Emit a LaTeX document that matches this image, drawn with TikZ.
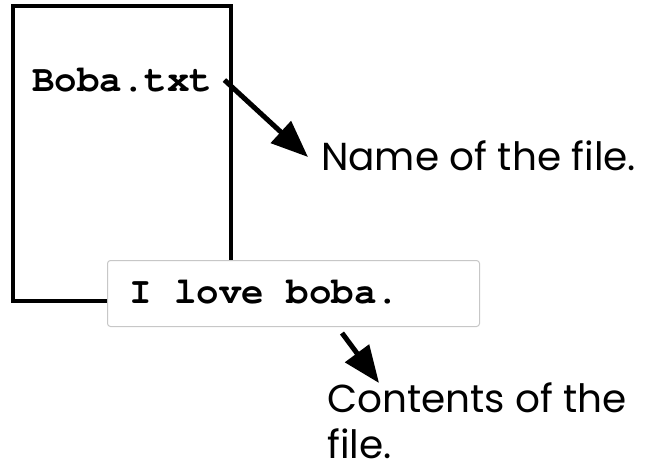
\documentclass[tikz,border=0pt]{standalone}
\usepackage{fontspec}
\setmainfont{Poppins}
\setmonofont{TeX Gyre Cursor}
\usetikzlibrary{arrows.meta}
\tikzset{
  filebox/.style={draw=black, line width=3.4pt, inner sep=0pt},
  contentbox/.style={draw=black!22, fill=white, line width=1pt, rounded corners=3pt,
    minimum width=372pt, minimum height=66pt, inner sep=0pt},
  codetext/.style={font=\fontsize{37.5}{40}\selectfont\ttfamily\bfseries, inner sep=0pt},
  labeltext/.style={font=\fontsize{39}{46}\selectfont, inner sep=0pt, align=left, text depth=0pt},
  bigarrow/.style={line width=5pt, -{Triangle[length=37pt, width=29pt]}},
}
\begin{document}
\begin{tikzpicture}[x=1pt, y=-1pt]
  \useasboundingbox (0,0) rectangle (650,466);
  % the file
  \draw[filebox] (13,6) rectangle (231,301);
  \node[codetext, anchor=base west] (fname) at (32,91) {Boba.txt};
  % its contents
  \node[contentbox, anchor=north west] (cbox) at (107,260) {};
  \node[codetext, anchor=base west] (ctext) at (129,303) {I love boba.};
  % labels (a multi-line node's base is its last line)
  \node[labeltext, anchor=base west] (namelbl) at (321,170) {Name of the file.};
  \node[labeltext, anchor=base west] (contlbl) at (327,458) {Contents of the\\file.};
  % arrows
  \coordinate (a1s) at ([xshift=12pt, yshift=11pt]fname.base east);
  \coordinate (a1e) at ([xshift=-13pt, yshift=13pt]namelbl.base west);
  \draw[bigarrow] (a1s) -- (a1e);
  \coordinate (a2s) at ([xshift=235pt, yshift=-6pt]cbox.south west);
  \coordinate (a2e) at ([xshift=272pt, yshift=-56pt]cbox.south west);
  \draw[bigarrow] (a2s) -- (a2e);
\end{tikzpicture}
\end{document}
